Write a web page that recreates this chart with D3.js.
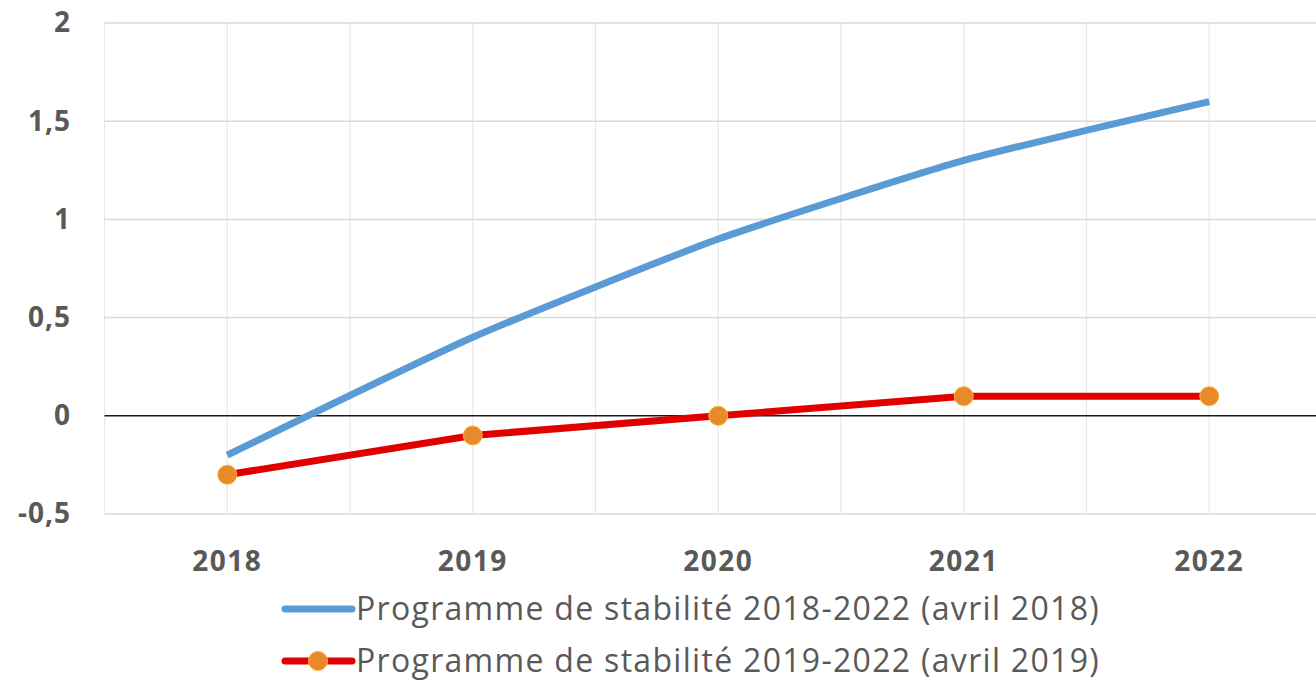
<!DOCTYPE html>
<html>
<head>
<meta charset="utf-8">
<script src="https://cdn.jsdelivr.net/npm/d3@7"></script>
<style>
  body { margin: 0; background: #fff; }
  text { font-family: "Open Sans", sans-serif; fill: #595959; }
</style>
</head>
<body>
<div id="chart"></div>
<script>
// data
const years = ["2018", "2019", "2020", "2021", "2022"];
const prog2018 = [-0.2, 0.4, 0.9, 1.3, 1.6];
const prog2019 = [-0.3, -0.1, 0, 0.1, 0.1];
const yTicks = [-0.5, 0, 0.5, 1, 1.5, 2];
const seriesNames = [
  "Programme de stabilité 2018-2022 (avril 2018)",
  "Programme de stabilité 2019-2022 (avril 2019)"
];

const W = 1316, H = 681;

var svg = d3.select("#chart").append("svg")
  .attr("width", W)
  .attr("height", H);

// scales
var x = d3.scaleBand()
  .domain(years)
  .range([104.5, 1332])
  .padding(0);
var cx = function(d) { return x(d) + x.bandwidth() / 2; };

var y = d3.scaleLinear()
  .domain([-0.5, 2])
  .range([514, 23]);

// vertical gridlines: band edges and centres
var vlines = [];
years.forEach(function(d) { vlines.push(x(d)); vlines.push(cx(d)); });
svg.append("g").selectAll("line")
  .data(vlines)
  .enter().append("line")
  .attr("x1", d => d).attr("x2", d => d)
  .attr("y1", y(2)).attr("y2", y(-0.5))
  .attr("stroke", "#e8e8e8")
  .attr("stroke-width", 1.2);

// horizontal gridlines
svg.append("g").selectAll("line")
  .data(yTicks.filter(d => d !== 0))
  .enter().append("line")
  .attr("x1", 104.5).attr("x2", W)
  .attr("y1", d => y(d)).attr("y2", d => y(d))
  .attr("stroke", "#d9d9d9")
  .attr("stroke-width", 1.5);

// zero line
svg.append("line")
  .attr("x1", 104.5).attr("x2", W)
  .attr("y1", y(0)).attr("y2", y(0))
  .attr("stroke", "#1a1a1a")
  .attr("stroke-width", 1.5);

// y axis labels
var fmt = function(d) { return String(d).replace(".", ","); };
var yAxis = d3.axisLeft(y).tickValues(yTicks).tickFormat(fmt).tickSize(0).tickPadding(0);
var gy = svg.append("g")
  .attr("transform", "translate(71,0)")
  .call(yAxis);
gy.select(".domain").remove();
gy.selectAll("text")
  .style("font-size", "28px")
  .style("font-weight", "bold")
  .style("letter-spacing", "1px")
  .attr("fill", "#595959");

// x axis labels
var xAxis = d3.axisBottom(x).tickSize(0).tickPadding(0);
var gx = svg.append("g")
  .attr("transform", "translate(0,551)")
  .call(xAxis);
gx.select(".domain").remove();
gx.selectAll("text")
  .style("font-size", "28px")
  .style("font-weight", "bold")
  .style("letter-spacing", "1.5px")
  .attr("fill", "#595959");

// lines
var blueLine = d3.line()
  .x((d, i) => cx(years[i]))
  .y(d => y(d))
  .curve(d3.curveCardinal.tension(0.5));

var redLine = d3.line()
  .x((d, i) => cx(years[i]))
  .y(d => y(d));

svg.append("path")
  .datum(prog2018)
  .attr("d", blueLine)
  .attr("fill", "none")
  .attr("stroke", "#5b9bd5")
  .attr("stroke-width", 7);

svg.append("path")
  .datum(prog2019)
  .attr("d", redLine)
  .attr("fill", "none")
  .attr("stroke", "#e00000")
  .attr("stroke-width", 7);

svg.append("g").selectAll("circle")
  .data(prog2019)
  .enter().append("circle")
  .attr("cx", (d, i) => cx(years[i]))
  .attr("cy", d => y(d))
  .attr("r", 9.5)
  .attr("fill", "#e8892b")
  .attr("stroke", "#f7b733")
  .attr("stroke-width", 1);

// legend
var legend = svg.append("g");
var rows = [609, 661];

legend.append("line")
  .attr("x1", 285).attr("x2", 352)
  .attr("y1", rows[0]).attr("y2", rows[0])
  .attr("stroke", "#5b9bd5")
  .attr("stroke-width", 7)
  .attr("stroke-linecap", "round");

legend.append("line")
  .attr("x1", 285).attr("x2", 352)
  .attr("y1", rows[1]).attr("y2", rows[1])
  .attr("stroke", "#e00000")
  .attr("stroke-width", 7)
  .attr("stroke-linecap", "round");

legend.append("circle")
  .attr("cx", 318).attr("cy", rows[1])
  .attr("r", 9.5)
  .attr("fill", "#e8892b")
  .attr("stroke", "#f7b733")
  .attr("stroke-width", 1);

legend.selectAll("text")
  .data(seriesNames)
  .enter().append("text")
  .attr("x", 356)
  .attr("y", (d, i) => rows[i])
  .attr("dy", "0.35em")
  .style("font-size", "32px")
  .style("letter-spacing", "1.3px")
  .text(d => d);
</script>
</body>
</html>
